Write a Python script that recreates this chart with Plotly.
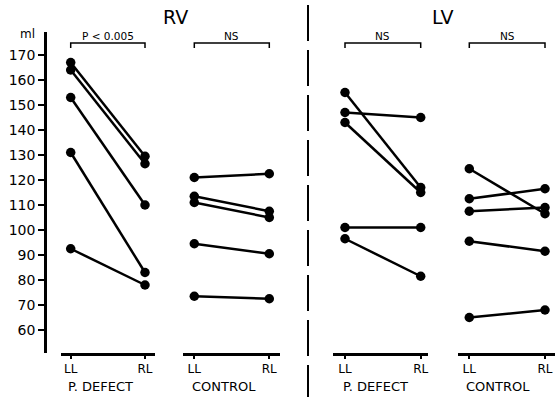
import plotly.graph_objects as go

# Volumes (ml) measured in the left-lateral (LL) and right-lateral (RL) positions
stages = ["LL", "RL"]

rv_defect_ll = [167, 164, 153, 131, 92.5]
rv_defect_rl = [129.5, 126.5, 110, 83, 78]

rv_control_ll = [121, 113.5, 111, 94.5, 73.5]
rv_control_rl = [122.5, 107.5, 105, 90.5, 72.5]

lv_defect_ll = [155, 147, 143, 101, 96.5]
lv_defect_rl = [117, 145, 115, 101, 81.5]

lv_control_ll = [124.5, 112.5, 107.5, 95.5, 65]
lv_control_rl = [106.5, 116.5, 109, 91.5, 68]

group_labels = ["P. DEFECT", "CONTROL", "P. DEFECT", "CONTROL"]
bracket_labels = ["P < 0.005", "NS", "NS", "NS"]
ventricle_titles = ["RV", "LV"]
y_ticks = [60, 70, 80, 90, 100, 110, 120, 130, 140, 150, 160, 170]

W, H = 560, 397
FONT = "DejaVu Sans"


def px_to_ml(py):
    # 25 px per 10 ml, 170 ml at y = 55 px
    return 170 - (py - 55) / 2.5


# pixel geometry of each panel: (axis left, axis right, LL position, RL position, label centre)
panel_geom = [
    (61, 155, 70.7, 145, 100),
    (183, 280, 194.3, 269.3, 224),
    (333, 428, 345, 420.7, 376),
    (458, 555, 469.3, 545, 498),
]
panel_data = [
    (rv_defect_ll, rv_defect_rl),
    (rv_control_ll, rv_control_rl),
    (lv_defect_ll, lv_defect_rl),
    (lv_control_ll, lv_control_rl),
]

y_top_px, y_bot_px = 32, 353


def text(x, y, s, size, xref="paper"):
    return dict(x=x, y=y, xref=xref, yref="paper", text=s, showarrow=False,
                xanchor="center", yanchor="middle",
                font=dict(family=FONT, size=size, color="black"))


fig = go.Figure()
shapes = []
annotations = []

for i, ((ll, rl), (a, b, c0, c1, lab_x)) in enumerate(zip(panel_data, panel_geom)):
    xname = "x" if i == 0 else f"x{i + 1}"
    xs, ys = [], []
    for v0, v1 in zip(ll, rl):
        xs += [stages[0], stages[1], None]
        ys += [v0, v1, None]
    fig.add_trace(go.Scatter(
        x=xs, y=ys, xaxis=xname, yaxis="y", mode="lines+markers",
        line=dict(color="black", width=2.5),
        marker=dict(color="black", size=9.5),
        showlegend=False, hoverinfo="skip", cliponaxis=False,
    ))
    unit = c1 - c0
    axis_key = "xaxis" if i == 0 else f"xaxis{i + 1}"
    fig.layout[axis_key] = dict(
        domain=[a / W, b / W], anchor="y",
        type="category", categoryorder="array", categoryarray=stages,
        range=[-(c0 - a) / unit, 1 + (b - c1) / unit],
        showline=True, linecolor="black", linewidth=2.5,
        ticks="outside", ticklen=3, tickwidth=1.5, tickcolor="black",
        tickfont=dict(family=FONT, size=12, color="black"),
        showgrid=False, zeroline=False, fixedrange=True,
    )
    # significance bracket above the pair
    yb_top = 1 - 43 / H
    yb_bot = 1 - 48 / H
    shapes.append(dict(
        type="path", xref=xname, yref="paper",
        path=f"M 0,{yb_bot} L 0,{yb_top} L 1,{yb_top} L 1,{yb_bot}",
        line=dict(color="black", width=1.5),
    ))
    annotations.append(text(0.5, 1 - 36 / H, bracket_labels[i], 10.5, xref=xname))
    annotations.append(text(lab_x / W, 1 - 386 / H, group_labels[i], 13))

fig.layout.yaxis = dict(
    domain=[1 - y_bot_px / H, 1 - y_top_px / H],
    range=[px_to_ml(y_bot_px), px_to_ml(y_top_px)],
    anchor="free", position=45 / W,
    tickvals=y_ticks, ticks="outside", ticklen=6, tickwidth=2, tickcolor="black",
    tickfont=dict(family=FONT, size=14, color="black"),
    showline=True, linecolor="black", linewidth=2.5,
    showgrid=False, zeroline=False, fixedrange=True,
)

annotations += [
    text(27 / W, 1 - 34 / H, "ml", 12),
    text(175 / W, 1 - 17 / H, ventricle_titles[0], 19),
    text(443 / W, 1 - 17 / H, ventricle_titles[1], 19),
]

# dashed divider between the RV and LV halves
shapes.append(dict(
    type="line", xref="paper", yref="paper",
    x0=308 / W, x1=308 / W, y0=1 - 5 / H, y1=0,
    line=dict(color="black", width=2, dash="36px,9px"),
))

fig.update_layout(
    width=W, height=H,
    margin=dict(l=0, r=0, t=0, b=0),
    paper_bgcolor="white", plot_bgcolor="white",
    shapes=shapes, annotations=annotations,
    showlegend=False,
)

fig.write_html("out.html", config={"displayModeBar": False})
